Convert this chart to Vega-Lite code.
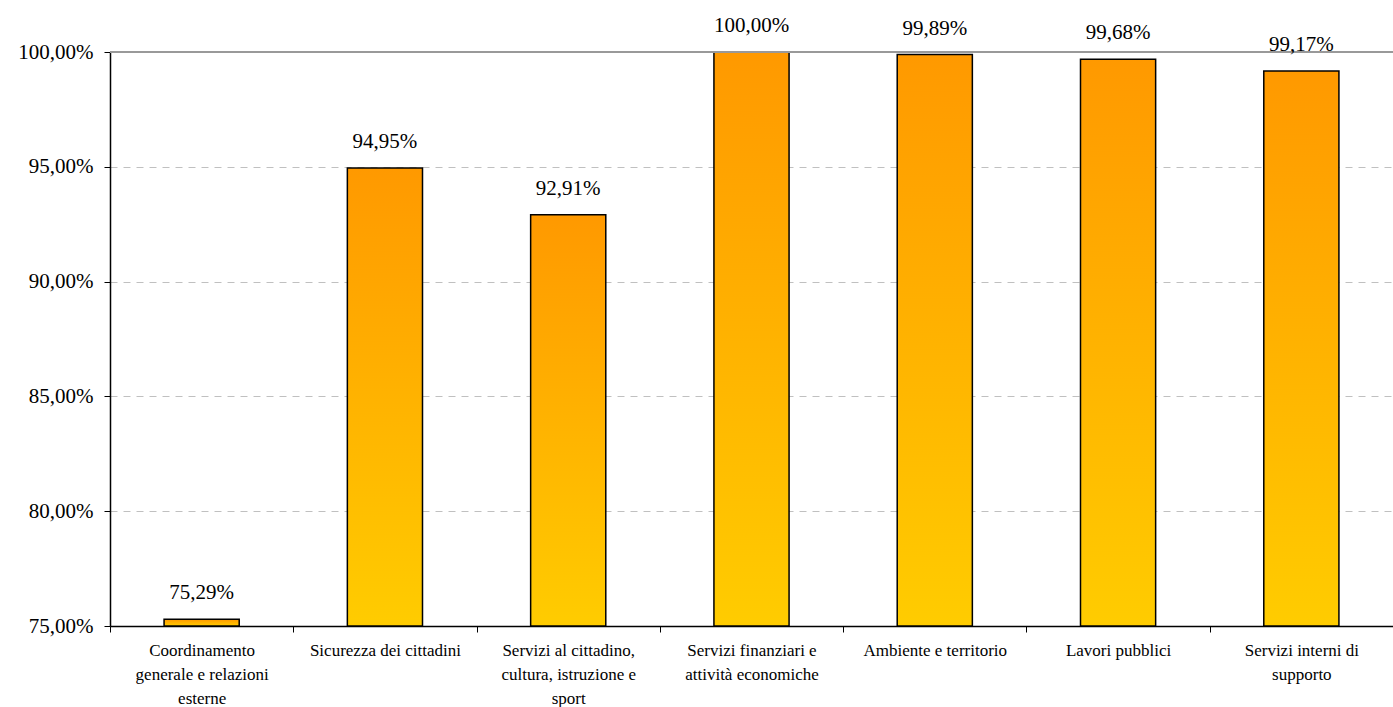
{
  "$schema": "https://vega.github.io/schema/vega-lite/v6.json",
  "width": 1283,
  "height": 574,
  "autosize": {"type": "none"},
  "padding": {"left": 110, "top": 52, "right": 0, "bottom": 81},
  "background": "white",
  "config": {
    "view": {"stroke": null},
    "font": "Liberation Serif, serif",
    "locale": {
      "number": {"decimal": ",", "thousands": ".", "grouping": [3], "currency": ["", " €"]}
    }
  },
  "data": {
    "values": [
      {"area": "Coordinamento|generale e relazioni|esterne", "value": 0.7529},
      {"area": "Sicurezza dei cittadini", "value": 0.9495},
      {"area": "Servizi al cittadino,|cultura, istruzione e|sport", "value": 0.9291},
      {"area": "Servizi finanziari e|attività economiche", "value": 1.0},
      {"area": "Ambiente e territorio", "value": 0.9989},
      {"area": "Lavori pubblici", "value": 0.9968},
      {"area": "Servizi interni di|supporto", "value": 0.9917}
    ]
  },
  "encoding": {
    "x": {
      "field": "area",
      "type": "nominal",
      "sort": null,
      "scale": {"paddingInner": 0, "paddingOuter": 0},
      "axis": {
        "title": null,
        "labelAngle": 0,
        "labelExpr": "datum.value ? split(datum.value, '|') : ''",
        "labelFont": "Liberation Serif, serif",
        "labelFontSize": 17,
        "labelColor": "black",
        "labelLineHeight": 24,
        "labelPadding": 10,
        "labelBaseline": "top",
        "tickBand": "extent",
        "tickColor": "black",
        "tickSize": 6,
        "tickWidth": 1,
        "domainColor": "black",
        "domainWidth": 1.5,
        "labelLimit": 300
      }
    }
  },
  "layer": [
    {
      "mark": {
        "type": "bar",
        "width": {"band": 0.41},
        "stroke": "black",
        "strokeWidth": 1.5,
        "color": {
          "gradient": "linear",
          "x1": 0, "y1": 0, "x2": 0, "y2": 1,
          "stops": [
            {"offset": 0, "color": "#FF9900"},
            {"offset": 1, "color": "#FFCC00"}
          ]
        }
      },
      "encoding": {
        "y": {
          "field": "value",
          "type": "quantitative",
          "scale": {"domain": [0.75, 1], "zero": false, "clamp": true, "nice": false},
          "axis": {
            "title": null,
            "values": [0.75, 0.8, 0.85, 0.9, 0.95, 1],
            "format": ".2%",
            "labelFont": "Liberation Serif, serif",
            "labelFontSize": 21,
            "labelColor": "black",
            "labelPadding": 11,
            "tickColor": "black",
            "tickSize": 6,
            "domainColor": "black",
            "domainWidth": 1.5,
            "grid": true,
            "gridColor": "#c0c0c0",
            "gridDash": [7, 6],
            "gridWidth": 1
          }
        },
        "y2": {"datum": 0.75}
      }
    },
    {
      "mark": {"type": "rule", "color": "#999999", "strokeWidth": 2},
      "encoding": {
        "y": {"datum": 1, "type": "quantitative"},
        "x": {"value": 0},
        "x2": {"value": 1283}
      }
    },
    {
      "mark": {
        "type": "text",
        "font": "Liberation Serif, serif",
        "fontSize": 21,
        "color": "black",
        "baseline": "alphabetic",
        "dy": -20
      },
      "encoding": {
        "y": {"field": "value", "type": "quantitative"},
        "text": {"field": "value", "type": "quantitative", "format": ".2%"}
      }
    }
  ]
}
